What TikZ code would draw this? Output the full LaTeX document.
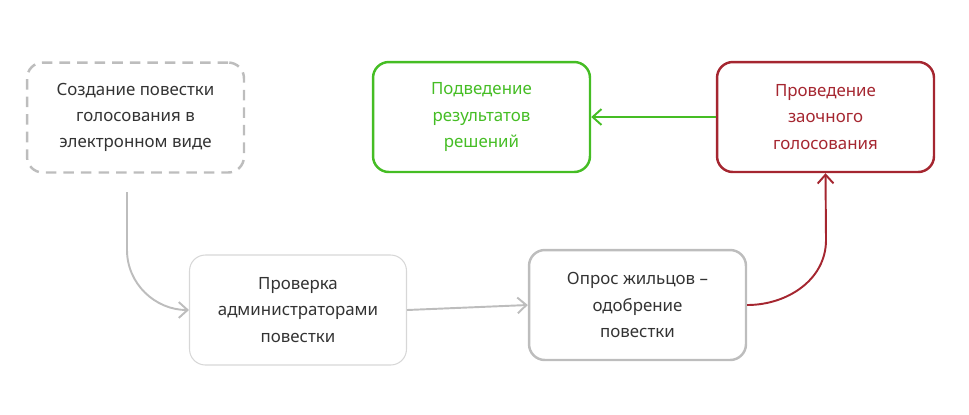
\documentclass[tikz,border=0pt]{standalone}
\usepackage{fontspec}
\setmainfont{Noto Sans}
\usetikzlibrary{arrows.meta}
\definecolor{gborder}{HTML}{BDBDBD}
\definecolor{okgreen}{HTML}{45BD24}
\definecolor{darkred}{HTML}{A52630}
\tikzset{
  box/.style={rounded corners=9pt, minimum width=4.34cm, minimum height=2.2cm, align=center,
    font=\fontsize{9.6}{15}\selectfont, text=black!80, line width=1.4pt},
  conn/.style={-{Straight Barb[length=5pt,width=9pt]}, line width=1.1pt}
}
\begin{document}
\begin{tikzpicture}[x=0.02cm,y=-0.02cm]
    \useasboundingbox (0,0) rectangle (969,414) ;
    \node[box, draw=gborder, dashed, dash pattern=on 6pt off 4pt] (create) at (135.5,117.5) {Создание повестки\\голосования в\\электронном виде} ;
    \node[box, draw=okgreen, text=okgreen] (results) at (481.5,117) {Подведение\\результатов\\решений} ;
    \node[box, draw=darkred, text=darkred, font=\fontsize{9.6}{15}\selectfont\bfseries] (vote) at (825.5,117) {Проведение\\заочного\\голосования} ;
    \node[box, draw=gborder!60, line width=0.6pt] (check) at (298,310) {Проверка\\администраторами\\повестки} ;
    \node[box, draw=gborder] (poll) at (637.5,305) {Опрос жильцов –\\одобрение\\повестки} ;
    \coordinate (start) at (127,192) ;
    \draw[conn, gborder] (start) -- (127,250) to[out=-90,in=180] (check.west) ;
    \draw[conn, gborder] (check.east) -- (poll.west) ;
    \draw[conn, darkred] (poll.east) to[out=0,in=-90] (826,240) -- (vote.south) ;
    \draw[conn, okgreen] (vote.west) -- (results.east) ;
\end{tikzpicture}
\end{document}
